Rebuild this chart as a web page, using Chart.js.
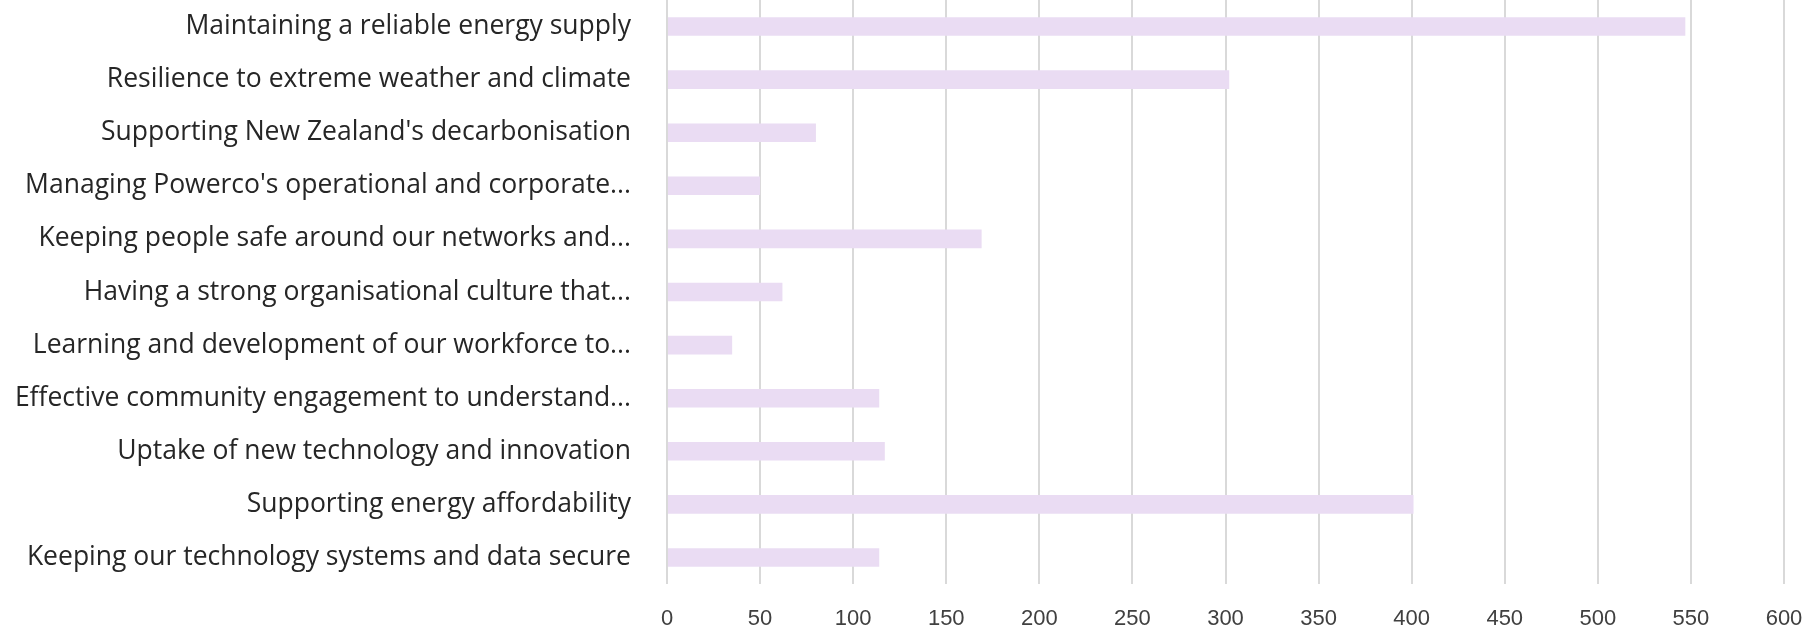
<!DOCTYPE html>
<html>
<head>
<meta charset="utf-8">
<script src="https://cdn.jsdelivr.net/npm/chart.js@4"></script>
<style>
  html, body { margin: 0; padding: 0; background: #fff; }
  #wrap { width: 1812px; height: 634px; }
</style>
</head>
<body>
<div id="wrap"><canvas id="chartPrioridades"></canvas></div>
<script>
const categories = [
  'Maintaining a reliable energy supply',
  'Resilience to extreme weather and climate',
  "Supporting New Zealand's decarbonisation",
  "Managing Powerco's operational and corporate...",
  'Keeping people safe around our networks and...',
  'Having a strong organisational culture that...',
  'Learning and development of our workforce to...',
  'Effective community engagement to understand...',
  'Uptake of new technology and innovation',
  'Supporting energy affordability',
  'Keeping our technology systems and data secure'
];
const votes = [547, 302, 80, 50, 169, 62, 35, 114, 117, 401, 114];
const xTicks = [0, 50, 100, 150, 200, 250, 300, 350, 400, 450, 500, 550, 600];

const ctx = document.getElementById('chartPrioridades');

new Chart(ctx, {
  type: 'bar',
  data: {
    labels: categories,
    datasets: [{
      data: votes,
      backgroundColor: '#eadcf3',
      barPercentage: 0.7,
      categoryPercentage: 0.5
    }]
  },
  options: {
    indexAxis: 'y',
    responsive: true,
    maintainAspectRatio: false,
    animation: false,
    layout: { autoPadding: false, padding: { top: 0, right: 28, bottom: 0, left: 0 } },
    plugins: {
      legend: { display: false },
      tooltip: { enabled: false }
    },
    scales: {
      x: {
        min: 0,
        max: 600,
        afterBuildTicks: axis => { axis.ticks = xTicks.map(v => ({ value: v })); },
        afterFit: axis => { axis.height = 50; axis.paddingLeft = 0; axis.paddingRight = 0; },
        grid: { color: '#d9d9d9', lineWidth: 2, drawTicks: false },
        border: { display: false },
        ticks: {
          padding: 22,
          color: '#404040',
          font: { family: 'Liberation Sans', size: 22 }
        }
      },
      y: {
        grid: { display: false },
        border: { display: false },
        // fixed label column, no extra padding above/below the plot
        afterFit: axis => { axis.width = 667; axis.paddingTop = 0; axis.paddingBottom = 0; },
        ticks: {
          padding: 28,
          autoSkip: false,
          color: '#262626',
          font: { family: 'Open Sans', size: 26.5 }
        }
      }
    }
  }
});
</script>
</body>
</html>
